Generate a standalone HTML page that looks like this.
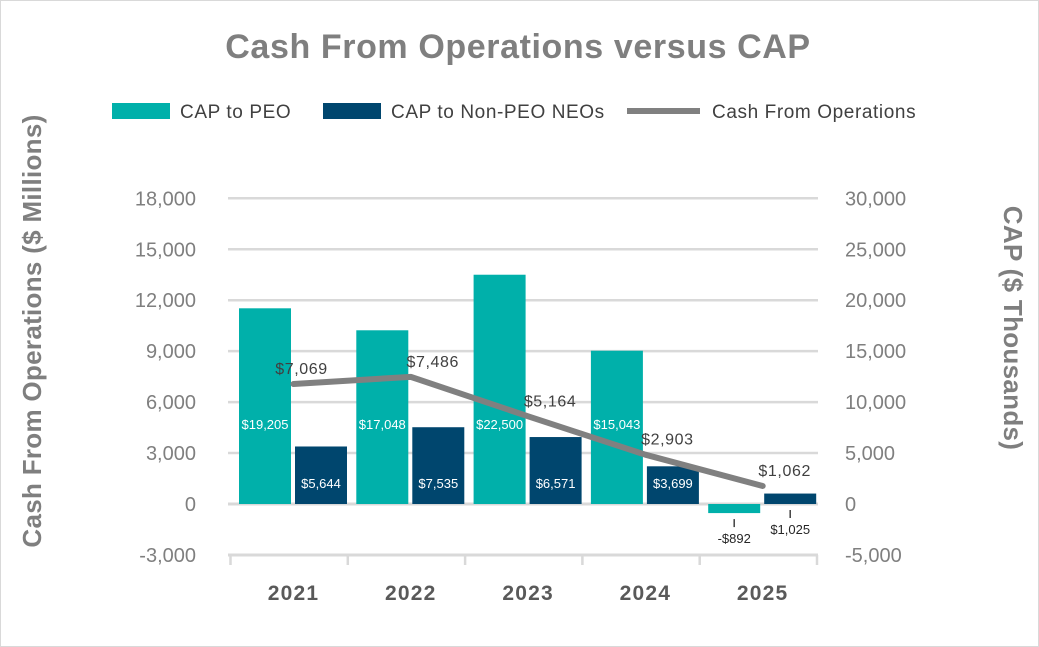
<!DOCTYPE html>
<html><head><meta charset="utf-8"><style>
body{margin:0;background:#fff;}
svg{display:block;font-family:"Liberation Sans",Arial,sans-serif;}
</style></head><body>
<svg id="chart" width="1039" height="647" viewBox="0 0 1039 647">
<rect x="0.5" y="0.5" width="1038" height="646" fill="#fff" stroke="#d9d9d9"/>
<text x="518" y="58" text-anchor="middle" font-size="34" font-weight="bold" fill="#7f7f7f" letter-spacing="0.6">Cash From Operations versus CAP</text>
<g>
<rect x="112" y="103" width="58" height="16" fill="#00b0aa"/>
<text x="180" y="118" font-size="19" letter-spacing="0.6" fill="#404040">CAP to PEO</text>
<rect x="323" y="103" width="58" height="16" fill="#00466e"/>
<text x="391" y="118" font-size="19" letter-spacing="0.6" fill="#404040">CAP to Non-PEO NEOs</text>
<line x1="627" y1="111" x2="700" y2="111" stroke="#808080" stroke-width="6"/>
<text x="712" y="118" font-size="19" letter-spacing="0.6" fill="#404040">Cash From Operations</text>
</g>
<text transform="translate(41,331) rotate(-90)" text-anchor="middle" font-size="26" font-weight="bold" fill="#7f7f7f" letter-spacing="0.3">Cash From Operations ($ Millions)</text>
<text transform="translate(1004,328) rotate(90)" text-anchor="middle" font-size="26" font-weight="bold" fill="#7f7f7f" letter-spacing="0.3">CAP ($ Thousands)</text>
<g id="grid"></g><g id="bars"></g><g id="line"></g><g id="labels"></g>
</svg>
<script>
const years=["2021","2022","2023","2024","2025"];
const capPeo=[19205,17048,22500,15043,-892];
const capNonPeo=[5644,7535,6571,3699,1025];
const cashOps=[7069,7486,5164,2903,1062];
const leftTicks=[18000,15000,12000,9000,6000,3000,0,-3000];
const rightTicks=[30000,25000,20000,15000,10000,5000,0,-5000];
const NS="http://www.w3.org/2000/svg";
const y0=504, pxPer=50.95;
const yL=v=>y0-v/3000*pxPer;
const yR=v=>y0-v/5000*pxPer;
const bandStart=230.5, band=117.3;
const xb=i=>bandStart+band*i;
function mk(tag,attrs,parent,txt){const e=document.createElementNS(NS,tag);for(const k in attrs)e.setAttribute(k,attrs[k]);if(txt!==undefined)e.textContent=txt;document.getElementById(parent).appendChild(e);return e;}
const fmt=v=>(v<0?"-$":"$")+Math.abs(v).toLocaleString("en-US");
leftTicks.forEach((t,i)=>{
  const y=yL(t);
  if(t!==-3000){const g=mk("line",{x1:228,x2:818,y1:y,y2:y,stroke:"#d9d9d9","stroke-width":t===0?3:2.5},"grid");
  
  }
  const l=mk("text",{x:196,y:y+7,"text-anchor":"end","font-size":20,fill:"#7f7f7f"},"grid",t.toLocaleString("en-US"));
  
  
});
rightTicks.forEach(t=>{
  const l=mk("text",{x:845,y:yR(t)+7,"font-size":20,fill:"#7f7f7f"},"grid",t.toLocaleString("en-US"));
  
  
});
const ax=mk("line",{x1:228,x2:818,y1:555,y2:555,stroke:"#d9d9d9","stroke-width":3},"grid");


for(let i=0;i<=years.length;i++){
  const t=mk("line",{x1:xb(i),x2:xb(i),y1:555,y2:565,stroke:"#d9d9d9","stroke-width":2.5},"grid");
  
  
}
years.forEach((yr,i)=>{
  const l=mk("text",{x:xb(i)+63,y:600,"text-anchor":"middle","font-size":21,"font-weight":"bold","letter-spacing":"1.2",fill:"#595959"},"labels",yr);
  
  
  [[capPeo[i],8.5,"#00b0aa","bar-cap-peo",424],[capNonPeo[i],64.5,"#00466e","bar-cap-non-peo",483]].forEach(([v,off,col,nm,ly])=>{
    const y=yR(v);
    const r=mk("rect",{x:xb(i)+off,y:Math.min(y,y0),width:52,height:Math.abs(y-y0),fill:col},"bars");
    
    
    const cx=xb(i)+off+26;
    let lbl;
    if(Math.abs(y-y0)>25){
      lbl=mk("text",{x:cx,y:ly+5,"text-anchor":"middle","font-size":13,fill:"#fff"},"labels",fmt(v));
    }else{
      const ll=mk("line",{x1:cx,x2:cx,y1:Math.max(y,y0)+6,y2:Math.max(y,y0)+14,stroke:"#404040","stroke-width":1.5},"labels");
      
      
      lbl=mk("text",{x:cx,y:Math.max(y,y0)+30,"text-anchor":"middle","font-size":13,fill:"#262626"},"labels",fmt(v));
    }
    
    
  });
});
const pts=cashOps.map((v,i)=>[xb(i)+63,yL(v)]);
const pl=mk("polyline",{points:pts.map(p=>p.join(",")).join(" "),fill:"none",stroke:"#808080","stroke-width":6,"stroke-linejoin":"round","stroke-linecap":"round"},"line");


cashOps.forEach((v,i)=>{
  const l=mk("text",{x:pts[i][0]+(i===0?8:22),y:pts[i][1]-10,"text-anchor":"middle","font-size":16,"letter-spacing":"0.6",fill:"#404040"},"labels",fmt(v));
  
  
});
</script>
</body></html>
